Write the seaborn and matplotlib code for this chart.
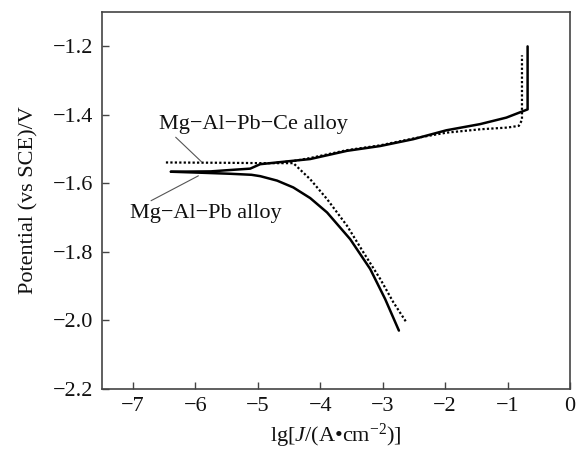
import numpy as np
import pandas as pd
import matplotlib
matplotlib.use("Agg")
import matplotlib.pyplot as plt
import seaborn as sns

# ---- data ----
# Mg-Al-Pb alloy (solid): cathodic branch (from start outward)
pb_cat_x = [-6.39, -5.90, -5.44, -5.10, -4.96, -4.69, -4.43, -4.16, -3.89, -3.52, -3.20, -2.96, -2.74]
pb_cat_y = [-1.566, -1.569, -1.572, -1.575, -1.579, -1.592, -1.612, -1.643, -1.685, -1.763, -1.850, -1.938, -2.030]
# Mg-Al-Pb alloy (solid): anodic branch
pb_an_x = [-6.39, -5.75, -5.44, -5.12, -4.96, -4.43, -4.16, -3.57, -3.04, -2.51, -1.98, -1.44, -1.02, -0.68, -0.68]
pb_an_y = [-1.566, -1.565, -1.561, -1.557, -1.544, -1.534, -1.529, -1.505, -1.491, -1.471, -1.445, -1.427, -1.408, -1.384, -1.200]

# Mg-Al-Pb-Ce alloy (dotted): cathodic branch
ce_cat_x = [-6.47, -5.50, -4.90, -4.43, -4.16, -3.89, -3.57, -3.31, -3.04, -2.83, -2.62]
ce_cat_y = [-1.539, -1.540, -1.541, -1.541, -1.588, -1.646, -1.724, -1.801, -1.879, -1.947, -2.006]
# Mg-Al-Pb-Ce alloy (dotted): anodic branch
ce_an_x = [-4.70, -4.43, -4.16, -3.57, -3.04, -2.51, -1.98, -1.43, -1.00, -0.82, -0.77, -0.77]
ce_an_y = [-1.540, -1.535, -1.526, -1.503, -1.489, -1.469, -1.452, -1.442, -1.437, -1.432, -1.415, -1.226]

x_ticks = [-7, -6, -5, -4, -3, -2, -1, 0]
y_ticks = [-2.2, -2.0, -1.8, -1.6, -1.4, -1.2]
label_pbce = "Mg\u2212Al\u2212Pb\u2212Ce alloy"
label_pb = "Mg\u2212Al\u2212Pb alloy"

# ---- style ----
sns.set_theme(style="white")
plt.rcParams["font.family"] = ["Liberation Serif", "DejaVu Serif"]
plt.rcParams["mathtext.fontset"] = "custom"
plt.rcParams["mathtext.rm"] = "Liberation Serif"
plt.rcParams["mathtext.it"] = "Liberation Serif:italic"
plt.rcParams["axes.unicode_minus"] = True

fig = plt.figure(figsize=(5.77, 4.5), dpi=100)
ax = fig.add_axes([0.176, 0.136, 0.812, 0.837])

def seg(xs, ys):
    return pd.DataFrame({"x": xs, "y": ys})

sns.lineplot(data=seg(pb_cat_x, pb_cat_y), x="x", y="y", sort=False, estimator=None,
             color="black", linewidth=1.8, ax=ax)
sns.lineplot(data=seg(pb_an_x, pb_an_y), x="x", y="y", sort=False, estimator=None,
             color="black", linewidth=1.8, ax=ax)
sns.lineplot(data=seg(ce_cat_x, ce_cat_y), x="x", y="y", sort=False, estimator=None,
             color="black", linewidth=1.6, linestyle=(0, (1, 1)), ax=ax)
sns.lineplot(data=seg(ce_an_x, ce_an_y), x="x", y="y", sort=False, estimator=None,
             color="black", linewidth=1.6, linestyle=(0, (1, 1)), ax=ax)

# annotations with leader lines
ax.annotate(label_pbce, xy=(-5.90, -1.537), xytext=(-6.58, -1.428),
            fontsize=16, ha="left", va="center", color="#111111",
            arrowprops=dict(arrowstyle="-", color="#555555", lw=0.8,
                            shrinkA=0, shrinkB=0, relpos=(0.07, 0.0)))
ax.annotate(label_pb, xy=(-5.95, -1.578), xytext=(-7.05, -1.688),
            fontsize=16, ha="left", va="center", color="#111111",
            arrowprops=dict(arrowstyle="-", color="#555555", lw=0.8,
                            shrinkA=0, shrinkB=0, relpos=(0.1, 1.0)))

ax.set_xlim(-7.5, 0)
ax.set_ylim(-2.2, -1.1)
ax.set_xticks(x_ticks)
ax.set_yticks(y_ticks)
ax.set_yticklabels([f"{v:.1f}".replace("-", "\u2212") for v in y_ticks])
ax.set_xticklabels([f"{v:d}".replace("-", "\u2212") for v in x_ticks])
ax.tick_params(axis="both", direction="in", length=5, width=1, color="#444444",
               labelsize=16, labelcolor="#111111", bottom=True, left=True, top=False, right=False, pad=6)
for s in ax.spines.values():
    s.set_color("#444444")
    s.set_linewidth(1.2)

ax.set_xlabel("lg[$J$/(A\u2022cm$^{-2}$)]", fontsize=16, color="#111111", labelpad=4)
ax.set_ylabel("Potential (vs SCE)/V", fontsize=16, color="#111111", labelpad=10)

fig.savefig("out.png", dpi=100)
